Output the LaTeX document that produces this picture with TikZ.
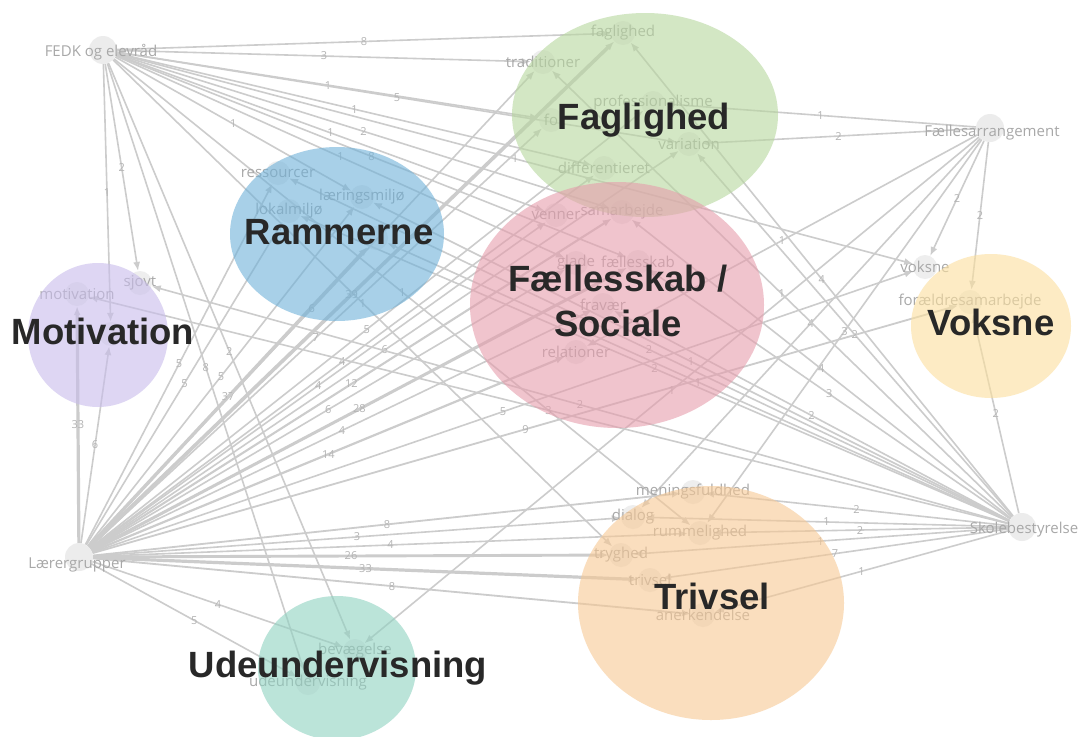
\documentclass[tikz,border=0pt]{standalone}
\usepackage{fontspec}
\setmainfont{Open Sans}
\newfontfamily\titlef{Liberation Sans}
\usetikzlibrary{arrows.meta}
\definecolor{edgec}{RGB}{204,204,204}
\definecolor{elc}{RGB}{180,180,180}
\definecolor{labc}{RGB}{168,168,168}
\definecolor{dotc}{RGB}{222,222,222}
\definecolor{titlec}{RGB}{40,40,40}
\definecolor{cgreen}{RGB}{183,215,158}
\definecolor{cpink}{RGB}{230,157,172}
\definecolor{cblue}{RGB}{110,177,217}
\definecolor{cpurple}{RGB}{200,188,235}
\definecolor{cyellow}{RGB}{252,223,157}
\definecolor{corange}{RGB}{247,200,147}
\definecolor{cteal}{RGB}{143,210,193}
\pgfdeclarelayer{bglayer}
\pgfdeclarelayer{edgelayer}
\pgfdeclarelayer{lablayer}
\pgfdeclarelayer{blobs}
\pgfsetlayers{bglayer,edgelayer,lablayer,blobs,main}
\tikzset{
  ed/.style={draw=edgec, line width=1.6pt, -{Latex[length=9pt,width=7pt]}},
  el/.style={font=\fontsize{11}{11}\selectfont, text=elc, inner sep=0pt},
  tdot/.style={circle, minimum size=24pt, inner sep=0pt, fill=dotc, fill opacity=.5},
  sdot/.style={circle, minimum size=28pt, inner sep=0pt, fill=dotc, fill opacity=.55},
  lab/.style={font=\fontsize{15}{15}\selectfont, text=labc, inner sep=0pt},
  blob/.style={fill opacity=.6},
  ttl/.style={font=\titlef\bfseries\fontsize{36.5}{45}\selectfont, text=titlec, align=center},
}
\begin{document}
\begin{tikzpicture}[x=1pt,y=-1pt]
\useasboundingbox (0,0) rectangle (1081,736);
\begin{pgfonlayer}{bglayer}
\fill[white] (0,0) rectangle (1081,736);
\end{pgfonlayer}
\begin{pgfonlayer}{lablayer}
% source nodes
\node[sdot] (F) at (103,50) {};
\node[lab] (Ft) at (101,52) {FEDK og elevråd};
\node[sdot] (L) at (79,557) {};
\node[lab] (Lt) at (77,565) {Lærergrupper};
\node[sdot] (A) at (990,128) {};
\node[lab] (At) at (992,133) {Fællesarrangement};
\node[sdot] (S) at (1022,527) {};
\node[lab] (St) at (1024,530) {Skolebestyrelse};
% target nodes
\foreach \n/\x/\y/\t in {fag/623/33/faglighed, tra/543/62/traditioner, pro/653/103/professionalisme,
  fo/551/120/fo, var/689/144/variation, dif/604/168/differentieret, ven/556/215/venner,
  sam/622/212/samarbejde, gla/576/263/glade, fae/638/262/fællesskab, fra/603/305/fravær,
  rel/576/352/relationer, res/278/173/ressourcer, lae/362/197/læringsmiljø, lok/289/211/lokalmiljø,
  sjo/140/283/sjovt, mot/77/294/motivation, vok/925/267/voksne, for/970/302/forældresamarbejde,
  men/693/492/meningsfuldhed, dia/633/517/dialog, rum/700/533/rummelighed, try/621/555/tryghed,
  tri/650/580/trivsel, ane/703/615/anerkendelse, bev/355/651/bevægelse, ude/308/683/udeundervisning}
  {\node[tdot] (\n) at (\x,\y) {}; \node[lab] (\n t) at (\x,\y) {\t};}
\node[tdot] (ram4) at (376,238) {};
\node[tdot] (mot2) at (111,334) {};
\end{pgfonlayer}
\begin{pgfonlayer}{edgelayer}
% FEDK og elevraad
\foreach \t/\l in {fag/8, tra/3, fo/1, var/5, dif/1, sam/2, ven/1, gla/1, fae/8, vok/1,
  lae/1, sjo/2, mot2/1, bev/2, ude/8, try/1, rum/1}
  \draw[ed] (F) -- node[el]{\l} (\t);
% Laerergrupper
\foreach \t/\l/\w in {mot/33/3.2, mot2/6/1.6, res/5/1.6, lok/5/1.6, lae/5/1.6,
  ram4/37/3.4, fag/39/3.6, tra/6/1.6, fo/7/1.6, pro/5/1.6, var/6/1.6, dif/4/1.6, sam/12/2.1,
  ven/4/1.6, gla/6/1.6, fae/28/3, rel/14/2.2, fra/4/1.6, vok/5/1.6, for/9/1.8,
  men/8/1.8, dia/3/1.6, rum/4/1.6, try/26/2.9, tri/33/3.2, ane/8/1.8, bev/4/1.6, ude/5/1.6}
  \draw[ed,line width=\w pt] (L) -- node[el]{\l} (\t);
% Faellesarrangement
\foreach \t/\l in {pro/1, var/2, vok/2, for/2, rel/1, dia/4, rum/3, bev/1}
  \draw[ed] (A) -- node[el]{\l} (\t);
% Skolebestyrelse
\foreach \t/\l in {men/2, dia/1, rum/2, try/1, tri/7, ane/1, for/2, fag/4, tra/1, var/2,
  sam/4, fae/3, fra/2, res/2, lae/1, lok/2, ram4/1, sjo/2, mot/3}
  \draw[ed] (S) -- node[el]{\l} (\t);
\end{pgfonlayer}
\begin{pgfonlayer}{blobs}
\fill[blob,cgreen] (645,115) ellipse [x radius=133, y radius=102];
\fill[blob,cpink] (617,305) ellipse [x radius=147, y radius=123];
\fill[blob,cblue] (337,234) ellipse [x radius=107, y radius=87];
\fill[blob,cpurple] (98,335) ellipse [x radius=70, y radius=72];
\fill[blob,cyellow] (991,326) ellipse [x radius=80, y radius=72];
\fill[blob,corange] (711,603) ellipse [x radius=133, y radius=117];
\fill[blob,cteal] (337,668) ellipse [x radius=79, y radius=72];
\end{pgfonlayer}
\node[ttl] (tFag) at (644,120) {Faglighed};
\node[ttl] (tRam) at (339,232) {Rammerne};
\node[ttl] (tMot) at (103,331) {Motivation};
\node[ttl] (tFae) at (618,301) {Fællesskab /\\Sociale};
\node[ttl] (tVok) at (991,322) {Voksne};
\node[ttl] (tTri) at (712,596) {Trivsel};
\node[ttl] (tUde) at (338,668) {Udeundervisning};
\end{tikzpicture}
\end{document}
